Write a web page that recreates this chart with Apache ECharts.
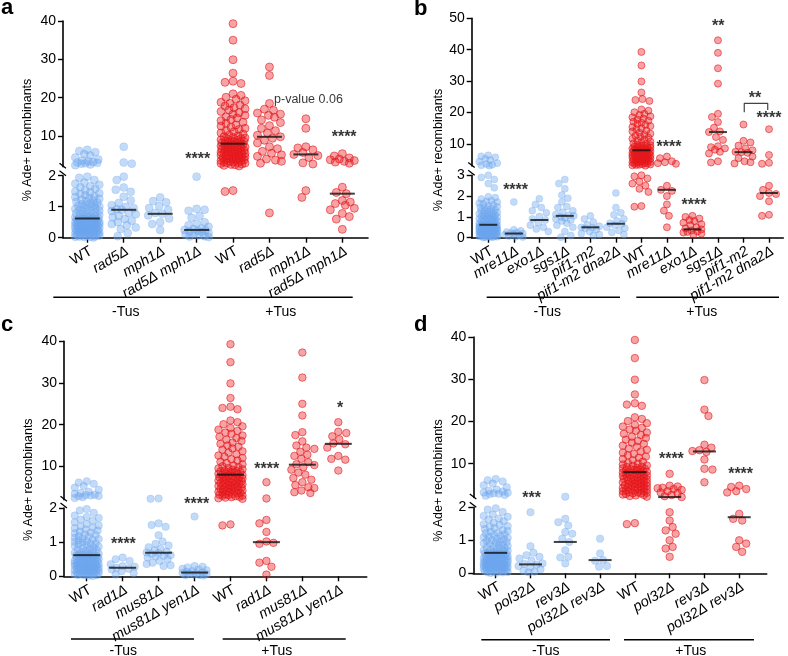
<!DOCTYPE html>
<html><head><meta charset="utf-8">
<script src="https://cdn.jsdelivr.net/npm/echarts@6/dist/echarts.min.js"></script>
<style>html,body{margin:0;padding:0;background:#fff;overflow:hidden}#c{width:788px;height:656px}</style>
</head><body><div id="c"></div><script>
// ---------------- DATA ----------------
const WT_MINUS = [6.4, 6.1, 5.8, 5.3, 4.9, 4.4, 3.9, 3.6, 3.4, 3.2, 3.1, 3.0, 2.9, 2.8, 2.6, 2.4,
  1.97, 1.93, 1.86, 1.78, 1.74, 1.71, 1.66, 1.63, 1.58, 1.53,
  1.49, 1.46, 1.43, 1.41, 1.37, 1.34, 1.31, 1.28, 1.26, 1.23, 1.21, 1.18, 1.16, 1.13, 1.11, 1.09, 1.07, 1.05, 1.03, 1.01,
  0.99, 0.97, 0.95, 0.93, 0.91, 0.89, 0.87, 0.85, 0.83, 0.81, 0.79, 0.77, 0.75, 0.73, 0.71, 0.69, 0.68, 0.66, 0.65, 0.63,
  0.62, 0.61, 0.61, 0.6, 0.59, 0.58, 0.58, 0.57, 0.56, 0.55, 0.54, 0.53, 0.52, 0.52, 0.51, 0.5, 0.49, 0.48, 0.47, 0.46,
  0.45, 0.45, 0.44, 0.43, 0.42, 0.41, 0.4, 0.39, 0.38, 0.37, 0.36, 0.36, 0.35, 0.34, 0.33, 0.32, 0.31, 0.31, 0.3, 0.3,
  0.29, 0.28, 0.28, 0.27, 0.26, 0.25, 0.24, 0.24, 0.23, 0.22, 0.21, 0.2, 0.19, 0.19, 0.18, 0.17, 0.16, 0.15, 0.14, 0.13,
  0.13, 0.12, 0.11, 0.1, 0.09, 0.08, 0.08, 0.07, 0.06, 0.05, 0.04, 0.03, 0.03, 0.02, 0.01];
const WT_PLUS = [39.3, 35.0, 29.9, 26.4, 24.3, 24.0, 23.7, 21.0, 20.6, 20.1,
  19.6, 19.2, 18.8, 18.5, 18.1, 17.8, 17.4, 17.1, 16.8, 16.4, 16.1, 15.7, 15.4, 15.0,
  14.7, 14.3, 14.0, 13.6, 13.3, 12.9, 12.6, 12.3, 12.0, 11.7, 11.4, 11.1, 10.8, 10.5, 10.2, 10.0,
  9.8, 9.6, 9.5, 9.3, 9.2, 9.0, 8.9, 8.8, 8.7, 8.6, 8.5, 8.4, 8.3, 8.2, 8.1, 8.0,
  7.9, 7.8, 7.7, 7.6, 7.5, 7.4, 7.3, 7.2, 7.1, 7.0, 6.9, 6.8, 6.7, 6.6, 6.5, 6.4,
  6.3, 6.2, 6.1, 6.0, 5.9, 5.8, 5.7, 5.6, 5.5, 5.4, 5.3, 5.2, 5.1, 5.0, 4.9, 4.8,
  4.7, 4.6, 4.5, 4.4, 4.3, 4.2, 4.1, 4.0, 3.9, 3.8, 3.7, 3.6, 3.5, 3.4, 3.3, 3.2, 3.1, 3.0,
  2.95, 2.85, 2.7, 2.6, 2.5, 2.35, 2.2, 1.52, 1.49];

// Panel a
const A_CATEGORIES = ['WT', 'rad5Δ', 'mph1Δ', 'rad5Δ mph1Δ', 'WT', 'rad5Δ', 'mph1Δ', 'rad5Δ mph1Δ'];
const A_RAD5_MINUS = [7.2, 3.1, 2.8, 1.97, 1.86, 1.62, 1.55, 1.48, 1.32, 1.2, 1.12, 1.05, 0.99, 0.95, 0.92, 0.9, 0.86, 0.8, 0.76, 0.71, 0.66, 0.6, 0.55, 0.5, 0.44, 0.4, 0.33, 0.28, 0.15, 0.05];
const A_MPH1_MINUS = [1.3, 1.18, 1.14, 1.02, 0.96, 0.9, 0.8, 0.77, 0.72, 0.62, 0.5, 0.44, 0.25];
const A_RAD5MPH1_MINUS = [1.97, 0.93, 0.9, 0.87, 0.7, 0.64, 0.5, 0.45, 0.4, 0.35, 0.3, 0.28, 0.25, 0.24, 0.22, 0.2, 0.18, 0.15, 0.12, 0.1, 0.08, 0.05, 0.04, 0.02];
const A_RAD5_PLUS = [28.0, 25.8, 18.5, 17.0, 16.7, 16.0, 15.7, 15.4, 14.9, 14.2, 13.5, 12.7, 12.0, 11.4, 10.8, 10.2, 9.8, 9.4, 8.9, 8.2, 7.2, 6.7, 6.0, 5.5, 5.1, 4.7, 4.0, 3.7, 3.4, 2.9, 0.8];
const A_MPH1_PLUS = [14.5, 12.0, 7.2, 6.9, 6.4, 5.7, 5.2, 4.9, 4.4, 3.0, 2.7, 1.52, 1.3];
const A_RAD5MPH1_PLUS = [5.4, 4.8, 4.3, 4.0, 3.8, 3.6, 3.4, 3.2, 2.9, 1.63, 1.46, 1.42, 1.2, 1.15, 1.1, 1.05, 0.95, 0.9, 0.78, 0.68, 0.6, 0.27];
const A_MEDIANS = [0.62, 0.9, 0.77, 0.25, 8.0, 9.8, 5.2, 1.42];

// Panel b
const B_CATEGORIES = ['WT', 'mre11Δ', 'exo1Δ', 'sgs1Δ', 'pif1-m2', 'pif1-m2 dna2Δ', 'WT', 'mre11Δ', 'exo1Δ', 'sgs1Δ', 'pif1-m2', 'pif1-m2 dna2Δ'];
const B_MRE11_MINUS = [1.72, 0.38, 0.33, 0.28, 0.25, 0.22, 0.2, 0.18, 0.15, 0.12, 0.08, 0.05, 0.03];
const B_EXO1_MINUS = [1.87, 1.6, 1.45, 1.3, 1.2, 1.02, 0.9, 0.85, 0.72, 0.6, 0.5, 0.42, 0.3];
const B_SGS1_MINUS = [2.8, 2.6, 2.35, 2.05, 1.9, 1.72, 1.5, 1.45, 1.3, 1.22, 1.12, 1.08, 1.05, 1.0, 0.95, 0.9, 0.85, 0.8, 0.7, 0.6, 0.5, 0.3, 0.1, 0.02];
const B_PIF1_MINUS = [1.05, 0.9, 0.75, 0.62, 0.55, 0.5, 0.48, 0.45, 0.4, 0.3, 0.2, 0.15, 0.1];
const B_PIF1DNA2_MINUS = [2.15, 1.45, 1.2, 1.1, 0.9, 0.8, 0.7, 0.67, 0.6, 0.5, 0.45, 0.35, 0.25, 0.15];
const B_MRE11_PLUS = [6.0, 5.5, 4.5, 4.2, 3.9, 3.7, 2.5, 2.3, 2.25, 2.0, 1.6, 1.3, 1.05, 0.5];
const B_EXO1_PLUS = [1.05, 1.0, 0.92, 0.85, 0.8, 0.72, 0.65, 0.6, 0.5, 0.45, 0.4, 0.35, 0.3, 0.28, 0.25, 0.2, 0.15];
const B_SGS1_PLUS = [43.0, 39.0, 34.1, 29.2, 19.6, 18.6, 17.0, 15.2, 14.0, 13.8, 12.2, 11.3, 9.3, 9.0, 8.6, 8.2, 7.5, 7.0, 4.5, 4.1];
const B_PIF1_PLUS = [16.2, 11.0, 10.5, 9.5, 8.6, 8.0, 7.5, 7.4, 7.2, 6.0, 5.5, 4.5, 4.2, 3.8];
const B_PIF1DNA2_PLUS = [14.7, 6.5, 4.0, 3.7, 2.5, 2.3, 2.15, 2.1, 2.0, 1.75, 1.1, 1.05];
const B_MEDIANS = [0.62, 0.2, 0.85, 1.05, 0.5, 0.67, 8.0, 2.3, 0.4, 13.8, 7.4, 2.15];

// Panel c
const C_CATEGORIES = ['WT', 'rad1Δ', 'mus81Δ', 'mus81Δ yen1Δ', 'WT', 'rad1Δ', 'mus81Δ', 'mus81Δ yen1Δ'];
const C_RAD1_MINUS = [0.55, 0.5, 0.45, 0.35, 0.3, 0.28, 0.25, 0.22, 0.2, 0.15, 0.1, 0.05];
const C_MUS81_MINUS = [2.3, 2.2, 1.55, 1.5, 1.45, 1.2, 1.02, 0.95, 0.9, 0.85, 0.8, 0.76, 0.72, 0.7, 0.68, 0.65, 0.62, 0.6, 0.58, 0.55, 0.5, 0.45, 0.4, 0.36, 0.32, 0.3];
const C_MUS81YEN1_MINUS = [1.75, 0.3, 0.28, 0.26, 0.22, 0.2, 0.18, 0.15, 0.13, 0.11, 0.1, 0.09, 0.08, 0.06, 0.05, 0.04, 0.03, 0.02];
const C_RAD1_PLUS = [6.2, 2.3, 1.65, 1.55, 1.3, 1.02, 0.98, 0.95, 0.45, 0.4, 0.28, 0.05];
const C_MUS81_PLUS = [37.3, 31.3, 25.0, 22.2, 18.2, 17.5, 16.0, 15.0, 14.5, 14.2, 13.5, 12.8, 12.5, 11.8, 11.0, 10.5, 10.3, 9.8, 9.2, 8.5, 8.0, 7.2, 6.8, 6.2, 5.5, 5.0, 4.8, 4.2, 3.8, 3.6];
const C_MUS81YEN1_PLUS = [20.6, 18.3, 18.0, 17.2, 16.5, 15.5, 15.3, 14.5, 12.5, 11.8, 11.6, 9.0];
const C_MEDIANS = [0.62, 0.25, 0.69, 0.11, 8.0, 1.0, 10.4, 15.4];

// Panel d
const D_CATEGORIES = ['WT', 'pol32Δ', 'rev3Δ', 'pol32Δ rev3Δ', 'WT', 'pol32Δ', 'rev3Δ', 'pol32Δ rev3Δ'];
const D_POL32_MINUS = [1.85, 0.82, 0.62, 0.55, 0.5, 0.45, 0.38, 0.3, 0.28, 0.26, 0.22, 0.18, 0.12, 0.08, 0.05, 0.03];
const D_REV3_MINUS = [2.2, 1.65, 1.55, 1.45, 1.25, 1.2, 1.05, 0.95, 0.7, 0.5, 0.48, 0.3];
const D_POL32REV3_MINUS = [1.05, 0.6, 0.4, 0.38, 0.22, 0.2];
const D_POL32_PLUS = [7.6, 4.8, 4.6, 4.3, 4.2, 4.0, 3.8, 3.5, 3.2, 3.0, 2.6, 2.3, 2.1, 1.85, 1.6, 1.4, 1.3, 1.2, 1.0, 0.8, 0.75, 0.5];
const D_REV3_PLUS = [29.8, 22.8, 21.3, 14.5, 13.8, 13.2, 13.0, 12.8, 11.0, 8.8, 8.6, 5.6];
const D_POL32REV3_PLUS = [4.8, 4.5, 4.0, 3.5, 3.2, 1.8, 1.65, 1.6, 1.0, 0.9, 0.8, 0.65];
const D_MEDIANS = [0.62, 0.27, 0.95, 0.4, 8.0, 2.1, 12.9, 1.7];

const UPPER_TICKS_40 = [10, 20, 30, 40];
const UPPER_TICKS_50 = [10, 20, 30, 40, 50];
const GROUP_LABELS = ['-Tus', '+Tus'];
const Y_NAME = '% Ade+ recombinants';

// ---------------- LAYOUT ----------------
const FONT = "'Liberation Sans', Arial, Helvetica, sans-serif";
const PANELS = [
  { letter: 'a', categories: A_CATEGORIES,
    values: [WT_MINUS, A_RAD5_MINUS, A_MPH1_MINUS, A_RAD5MPH1_MINUS, WT_PLUS, A_RAD5_PLUS, A_MPH1_PLUS, A_RAD5MPH1_PLUS],
    medians: A_MEDIANS, upTicks: UPPER_TICKS_40,
    g: { L: 63, R: 368, upTop: 21, upBot: 166.7, loTop: 175.7, loBot: 237.7, xmin: -0.667, xmax: 7.705, brk: 2, ymax: 40, dot: 8, half: 12, medW: 25,
         letter: [1, 7.5], yname: [28, 140], lines: [[53.3, 200, 297.3], [206.7, 352.7, 297.3]], glab: [[125.8, 312], [280.8, 312]] },
    notes: [ { t: '****', x: 3.03, s: 1, y: 4.8 }, { t: 'p-value 0.06', x: 6.07, s: 1, y: 19.4, plain: true }, { t: '****', x: 7.05, s: 1, y: 10.4 } ] },
  { letter: 'b', categories: B_CATEGORIES,
    values: [WT_MINUS, B_MRE11_MINUS, B_EXO1_MINUS, B_SGS1_MINUS, B_PIF1_MINUS, B_PIF1DNA2_MINUS, WT_PLUS, B_MRE11_PLUS, B_EXO1_PLUS, B_SGS1_PLUS, B_PIF1_PLUS, B_PIF1DNA2_PLUS],
    medians: B_MEDIANS, upTicks: UPPER_TICKS_50,
    g: { L: 471.7, R: 783.3, upTop: 18.3, upBot: 166, loTop: 175.3, loBot: 237.7, xmin: -0.65, xmax: 11.56, brk: 3, ymax: 50, dot: 7, half: 9, medW: 18,
         letter: [414, 9], yname: [439, 150], lines: [[486.7, 620, 297.3], [636.3, 779, 297.3]], glab: [[547.3, 311.7], [701.7, 311.7]] },
    notes: [ { t: '****', x: 1.07, s: 0, y: 2.45 }, { t: '****', x: 7.08, s: 1, y: 10.0 }, { t: '****', x: 8.06, s: 0, y: 1.73 },
             { t: '**', x: 9.01, s: 1, y: 48.4 }, { t: '**', x: 10.45, s: 1, y: 25.6 }, { t: '****', x: 11.0, s: 1, y: 19.3 } ],
    bracket: [[10.03, 20.1], [10.03, 22.95], [10.95, 22.95], [10.95, 20.8]] },
  { letter: 'c', categories: C_CATEGORIES,
    values: [WT_MINUS, C_RAD1_MINUS, C_MUS81_MINUS, C_MUS81YEN1_MINUS, WT_PLUS, C_RAD1_PLUS, C_MUS81_PLUS, C_MUS81YEN1_PLUS],
    medians: C_MEDIANS, upTicks: UPPER_TICKS_40,
    g: { L: 64, R: 366.7, upTop: 341.3, upBot: 499.7, loTop: 508, loBot: 576.3, xmin: -0.632, xmax: 7.79, brk: 2, ymax: 40, dot: 7.5, half: 12, medW: 27,
         letter: [1, 325.3], yname: [28.3, 479.7], lines: [[71, 194, 639], [222.7, 345.7, 639]], glab: [[123.3, 651.3], [276.7, 651.3]] },
    notes: [ { t: '****', x: 1.02, s: 0, y: 1.02 }, { t: '****', x: 3.06, s: 0, y: 2.21 }, { t: '****', x: 5.01, s: 1, y: 10.15 }, { t: '*', x: 7.05, s: 1, y: 24.8 } ] },
  { letter: 'd', categories: D_CATEGORIES,
    values: [WT_MINUS, D_POL32_MINUS, D_REV3_MINUS, D_POL32REV3_MINUS, WT_PLUS, D_POL32_PLUS, D_REV3_PLUS, D_POL32REV3_PLUS],
    medians: D_MEDIANS, upTicks: UPPER_TICKS_40,
    g: { L: 473.3, R: 766.7, upTop: 337, upBot: 497.5, loTop: 507.3, loBot: 573.3, xmin: -0.644, xmax: 7.79, brk: 2, ymax: 40, dot: 7.5, half: 12, medW: 23,
         letter: [414, 325.3], yname: [439, 480.5], lines: [[481.3, 610, 639.7], [624, 754, 639.7]], glab: [[545.7, 651.3], [690.7, 651.3]] },
    notes: [ { t: '***', x: 1.03, s: 1, y: 2.66 }, { t: '****', x: 5.05, s: 1, y: 11.9 }, { t: '****', x: 7.04, s: 1, y: 8.2 } ] }
];

const BLUE = { color: 'rgba(108,166,238,0.5)', borderColor: 'rgba(108,166,238,0.55)', borderWidth: 0.6 };
const RED = { color: 'rgba(236,26,30,0.5)', borderColor: 'rgba(226,22,26,0.8)', borderWidth: 0.9 };

const chart = echarts.init(document.getElementById('c'), null, { renderer: 'canvas' });

// axis indices: x: 3p lower (line+ticks+even labels), 3p+1 upper (hidden), 3p+2 lower (odd labels only); y: 2p lower, 2p+1 upper
const grids = [], xAxes = [], yAxes = [], graphics = [];
PANELS.forEach((P, p) => {
  const g = P.g, cats = P.categories, idx = cats.map((_, i) => i);
  const evenIdx = idx.filter(i => i % 2 === 0), oddIdx = idx.filter(i => i % 2 === 1);
  const W = g.R - g.L;
  grids.push({ left: g.L, top: g.loTop, width: W, height: g.loBot - g.loTop, containLabel: false, outerBoundsMode: 'none' });
  grids.push({ left: g.L, top: g.upTop, width: W, height: g.upBot - g.upTop, containLabel: false, outerBoundsMode: 'none' });
  const labelBase = { rotate: 30, margin: 6, color: '#000', verticalAlign: 'top', showMinLabel: true, showMaxLabel: true, hideOverlap: false,
      formatter: v => { const t = cats[Math.round(v)]; if (t == null) return ''; return t === 'WT' ? '{n|WT}' : '{i|' + t + '}'; },
      rich: { n: { fontSize: 14.5, fontFamily: FONT, color: '#000' }, i: { fontSize: 14.5, fontFamily: FONT, fontStyle: 'italic', color: '#000' } } };
  xAxes.push({ gridIndex: 2 * p, type: 'value', position: 'bottom', min: g.xmin, max: g.xmax, splitLine: { show: false },
    axisLine: { show: true, onZero: false, lineStyle: { color: '#000', width: 1.6 } },
    axisTick: { show: true, customValues: idx, length: 5, lineStyle: { color: '#000', width: 1.4 } },
    axisLabel: Object.assign({}, labelBase, { customValues: evenIdx }) });
  xAxes.push({ gridIndex: 2 * p + 1, type: 'value', min: g.xmin, max: g.xmax, show: false, splitLine: { show: false } });
  xAxes.push({ gridIndex: 2 * p, type: 'value', position: 'bottom', offset: 0, min: g.xmin, max: g.xmax, splitLine: { show: false },
    axisLine: { show: false, onZero: false }, axisTick: { show: false },
    axisLabel: Object.assign({}, labelBase, { customValues: oddIdx }) });
  const yCommon = { type: 'value', splitLine: { show: false },
    axisLine: { show: true, onZero: false, lineStyle: { color: '#000', width: 1.6 } },
    axisTick: { show: true, length: 5, lineStyle: { color: '#000', width: 1.4 } },
    axisLabel: { fontSize: 14, fontFamily: FONT, color: '#000', margin: 7, showMinLabel: true, showMaxLabel: true } };
  yAxes.push(Object.assign({}, yCommon, { gridIndex: 2 * p, min: 0, max: g.brk, interval: 1 }));
  yAxes.push(Object.assign({}, yCommon, { gridIndex: 2 * p + 1, min: g.brk, max: g.ymax,
    axisTick: Object.assign({}, yCommon.axisTick, { customValues: P.upTicks }),
    axisLabel: Object.assign({}, yCommon.axisLabel, { customValues: P.upTicks }) }));

  graphics.push({ type: 'text', x: g.letter[0], y: g.letter[1], style: { text: P.letter, font: 'bold 22px ' + FONT, fill: '#000', textAlign: 'left', textVerticalAlign: 'middle' } });
  graphics.push({ type: 'text', x: g.yname[0], y: g.yname[1], rotation: Math.PI / 2, style: { text: Y_NAME, font: '12.5px ' + FONT, fill: '#000', textAlign: 'center', textVerticalAlign: 'middle' } });
  g.lines.forEach((l, k) => {
    graphics.push({ type: 'line', shape: { x1: l[0], y1: l[2], x2: l[1], y2: l[2] }, style: { stroke: '#000', lineWidth: 1.5 } });
    graphics.push({ type: 'text', x: g.glab[k][0], y: g.glab[k][1], style: { text: GROUP_LABELS[k], font: '14px ' + FONT, fill: '#000', textAlign: 'center', textVerticalAlign: 'middle' } });
  });
  [g.upBot - 1, g.loTop - 2.5].forEach(m => {
    graphics.push({ type: 'line', shape: { x1: g.L - 3.5, y1: m - 2.5, x2: g.L + 3, y2: m + 2.5 }, style: { stroke: '#000', lineWidth: 1.3 } });
  });
});

chart.setOption({ animation: false, backgroundColor: '#fff', grid: grids, xAxis: xAxes, yAxis: yAxes, graphic: graphics });

function swarm(ys, d, maxHalf) {
  const order = ys.map((y, i) => i).sort((a, b) => ys[a] - ys[b]);
  const placed = [], off = new Array(ys.length);
  order.forEach((i, n) => {
    const y = ys[i];
    const near = placed.filter(q => Math.abs(q.y - y) < d);
    const sgn = n % 2 ? -1 : 1;
    const cands = [0];
    for (let s = 1; s <= maxHalf; s += 1) cands.push(s * sgn, -s * sgn);
    let best = 0, bestScore = -1;
    for (const c of cands) {
      let minD = Infinity;
      for (const q of near) { const dd = Math.hypot(q.x - c, q.y - y); if (dd < minD) minD = dd; }
      if (minD >= d) { best = c; break; }
      if (minD > bestScore + 0.05) { bestScore = minD; best = c; }
    }
    placed.push({ x: best, y: y }); off[i] = best;
  });
  return off;
}

const series = [];
PANELS.forEach((P, p) => {
  const g = P.g, half = P.categories.length / 2;
  const blue = [[], []], red = [[], []], med = [[], []], notes = [[], []];
  const xIdx = [3 * p, 3 * p + 1];
  P.values.forEach((arr, ci) => {
    const parts = [[], []];
    arr.forEach(v => parts[v > g.brk ? 1 : 0].push(v));
    parts.forEach((vals, s) => {
      const ys = vals.map(v => chart.convertToPixel({ xAxisIndex: xIdx[s], yAxisIndex: 2 * p + s }, [ci, v])[1]);
      const offs = swarm(ys, g.dot * 0.95, g.half);
      vals.forEach((v, k) => (ci < half ? blue : red)[s].push({ value: [ci, v], symbolOffset: [offs[k], 0] }));
    });
  });
  P.medians.forEach((m, ci) => med[m > g.brk ? 1 : 0].push([ci, m]));
  P.notes.forEach(n => notes[n.s].push({ value: [n.x, n.y], label: { formatter: n.t,
    fontSize: n.plain ? 12.5 : 16, fontWeight: n.plain ? 'normal' : 'bold', offset: [0, n.plain ? 0 : 3.5] } }));
  [0, 1].forEach(s => {
    const base = { type: 'scatter', xAxisIndex: xIdx[s], yAxisIndex: 2 * p + s, silent: true };
    series.push(Object.assign({}, base, { data: blue[s], symbol: 'circle', symbolSize: g.dot, itemStyle: BLUE, z: 2 }));
    series.push(Object.assign({}, base, { data: red[s], symbol: 'circle', symbolSize: g.dot, itemStyle: RED, z: 3 }));
    series.push(Object.assign({}, base, { data: med[s], symbol: 'rect', symbolSize: [g.medW, 2], itemStyle: { color: '#111' }, z: 5 }));
    series.push(Object.assign({}, base, { data: notes[s], symbol: 'circle', symbolSize: 1, clip: false, itemStyle: { color: 'rgba(0,0,0,0)' }, z: 6,
      label: { show: true, position: 'inside', color: '#000', fontFamily: FONT } }));
  });
  if (P.bracket) {
    series.push({ type: 'line', xAxisIndex: 3 * p + 1, yAxisIndex: 2 * p + 1, data: P.bracket, symbol: 'none', silent: true,
      lineStyle: { color: '#444', width: 1.2 }, z: 6, clip: false });
  }
});
chart.setOption({ series: series });
</script></body></html>
